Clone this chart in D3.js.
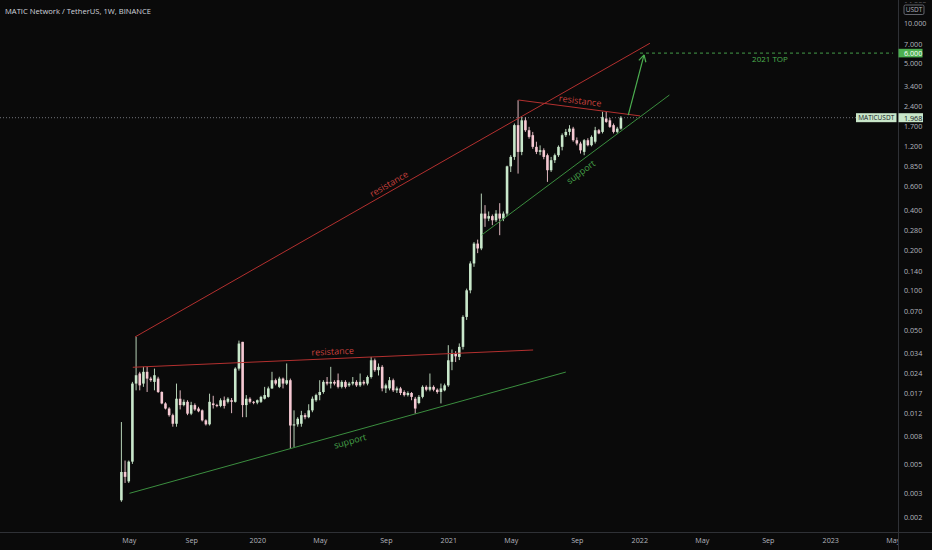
<!DOCTYPE html>
<html><head><meta charset="utf-8">
<script src="https://cdn.jsdelivr.net/npm/d3@7"></script>
<style>
html,body{margin:0;padding:0;background:#0a0a0a;}
svg{display:block;}
text{font-family:"Open Sans","Liberation Sans",sans-serif;}
</style></head><body>
<svg id="chart" width="932" height="550"></svg>
<script>
// ---------- DATA ----------
const title = "MATIC Network / TetherUS, 1W, BINANCE";
const firstWeek = "2019-04-22";
const opens = [0.00267,0.00435,0.0037,0.0052,0.0200,0.0238,0.0200,0.0245,0.0218,0.0206,
0.0218,0.0173,0.0142,0.0130,0.0116,0.0100,0.0154,0.0138,0.0146,0.0119,
0.0138,0.0130,0.0126,0.0106,0.0099,0.0142,0.0138,0.0136,0.0150,0.0146,
0.0150,0.0146,0.0259,0.0411,0.0138,0.0154,0.0146,0.0144,0.0146,0.0154,
0.0159,0.0184,0.0212,0.0189,0.0218,0.0200,0.0212,0.0097,0.0099,0.0100,
0.0116,0.0112,0.0126,0.0150,0.0164,0.0173,0.0206,0.0200,0.0206,0.0212,
0.0189,0.0206,0.0194,0.0200,0.0206,0.0194,0.0206,0.0200,0.0224,0.0299,
0.0252,0.0267,0.0184,0.0184,0.0212,0.0178,0.0184,0.0173,0.0164,0.0170,
0.0154,0.0143,0.0159,0.0189,0.0180,0.0189,0.0180,0.0173,0.0178,0.0194,
0.0291,0.0336,0.0317,0.0377,0.0632,0.100,0.159,0.224,0.206,0.376,
0.345,0.360,0.335,0.376,0.345,0.376,0.850,1.000,1.730,1.090,
1.880,1.585,1.455,1.190,1.091,1.123,1.030,0.795,0.945,1.030,
1.190,1.455,1.540,1.630,1.334,1.260,1.091,1.334,1.224,1.300,
1.585,1.540,1.940,1.880,1.730,1.540,1.630];
const highs = [0.0103,0.0053,0.0053,0.0206,0.0448,0.0245,0.0267,0.0267,0.0225,0.0259,
0.0225,0.0175,0.0145,0.0133,0.0119,0.0200,0.0178,0.0152,0.0150,0.0146,
0.0142,0.0134,0.0128,0.0108,0.0168,0.0162,0.0141,0.0155,0.0160,0.0158,
0.0156,0.0265,0.0420,0.0411,0.0164,0.0158,0.0148,0.0152,0.0162,0.0189,
0.0190,0.0245,0.0218,0.0225,0.0222,0.0283,0.0218,0.0126,0.0112,0.0125,
0.0120,0.0140,0.0160,0.0168,0.0212,0.0212,0.0224,0.0267,0.0212,0.0238,
0.0212,0.0212,0.0206,0.0224,0.0212,0.0238,0.0212,0.0230,0.0317,0.0308,
0.0283,0.0275,0.0200,0.0224,0.0218,0.0190,0.0189,0.0178,0.0175,0.0173,
0.0159,0.0164,0.0194,0.0194,0.0238,0.0194,0.0184,0.0200,0.0200,0.0388,
0.0360,0.0350,0.0400,0.0650,0.103,0.165,0.230,0.240,0.531,0.435,
0.390,0.370,0.399,0.450,0.390,0.860,1.030,1.780,2.660,1.990,
1.990,1.680,1.540,1.300,1.220,1.160,1.060,1.000,1.060,1.220,
1.500,1.620,1.730,1.680,1.400,1.300,1.360,1.380,1.450,1.680,
1.620,2.180,2.180,1.960,1.780,1.680,2.020];
const lows = [0.0026,0.0036,0.0036,0.0050,0.0178,0.0178,0.0189,0.0173,0.0206,0.0178,
0.0170,0.0140,0.0128,0.0113,0.0095,0.0095,0.0128,0.0135,0.0116,0.0116,
0.0125,0.0122,0.0104,0.0097,0.0097,0.0130,0.0133,0.0133,0.0130,0.0142,
0.0120,0.0144,0.0250,0.0112,0.0112,0.0142,0.0140,0.0140,0.0143,0.0152,
0.0157,0.0182,0.0194,0.0185,0.0184,0.0195,0.0065,0.0067,0.0095,0.0095,
0.0108,0.0110,0.0122,0.0146,0.0150,0.0168,0.0194,0.0184,0.0194,0.0184,
0.0184,0.0184,0.0189,0.0194,0.0189,0.0189,0.0194,0.0194,0.0218,0.0245,
0.0230,0.0175,0.0170,0.0178,0.0173,0.0170,0.0164,0.0160,0.0160,0.0150,
0.0119,0.0140,0.0155,0.0175,0.0175,0.0175,0.0168,0.0142,0.0175,0.0189,
0.0252,0.0290,0.0300,0.0360,0.0600,0.0950,0.150,0.190,0.200,0.299,
0.330,0.308,0.325,0.259,0.330,0.360,0.770,0.950,0.750,1.030,
1.540,1.370,1.150,1.050,1.030,0.960,0.650,0.772,0.900,1.000,
1.120,1.410,1.450,1.300,1.220,1.060,1.030,1.200,1.200,1.260,
1.480,1.500,1.800,1.650,1.500,1.500,1.600];
const closes = [0.00435,0.0040,0.0052,0.0200,0.0231,0.0194,0.0245,0.0218,0.0212,0.0231,
0.0173,0.0142,0.0130,0.0116,0.0100,0.0154,0.0138,0.0146,0.0119,0.0138,
0.0128,0.0124,0.0106,0.0099,0.0146,0.0138,0.0136,0.0150,0.0136,0.0154,
0.0146,0.0259,0.0399,0.0138,0.0154,0.0146,0.0144,0.0150,0.0159,0.0164,
0.0184,0.0212,0.0200,0.0218,0.0200,0.0212,0.0097,0.0099,0.0109,0.0116,
0.0112,0.0126,0.0154,0.0164,0.0173,0.0206,0.0200,0.0206,0.0200,0.0189,
0.0206,0.0189,0.0200,0.0206,0.0194,0.0206,0.0200,0.0224,0.0299,0.0252,
0.0267,0.0184,0.0194,0.0212,0.0178,0.0184,0.0170,0.0164,0.0170,0.0159,
0.0130,0.0159,0.0189,0.0180,0.0189,0.0180,0.0173,0.0184,0.0194,0.0299,
0.0336,0.0320,0.0377,0.0632,0.100,0.159,0.224,0.206,0.376,0.345,
0.360,0.335,0.376,0.345,0.376,0.850,1.000,1.730,1.090,1.880,
1.585,1.413,1.190,1.091,1.123,1.000,0.795,0.945,1.030,1.190,
1.455,1.540,1.630,1.334,1.260,1.120,1.334,1.224,1.413,1.585,
1.500,1.995,1.830,1.680,1.540,1.630,1.968];

const priceTicks = [14,10,7,5,3.4,2.4,1.7,1.2,0.85,0.6,0.4,0.28,0.2,0.14,0.1,0.07,0.05,0.034,0.024,0.017,0.012,0.008,0.005,0.003,0.002];
const timeTickDates = ["2019-05-06","2019-09-02","2020-01-06","2020-05-04","2020-09-07","2021-01-04","2021-05-03","2021-09-06","2022-01-03","2022-05-02","2022-09-05","2023-01-02","2023-05-01"];
const timeTickLabels = ["May","Sep","2020","May","Sep","2021","May","Sep","2022","May","Sep","2023","May"];

// drawn trend lines (week index since first candle, price)
const trendKind = ["resistance","resistance","support","resistance","support"];
const trendStartWeek = [3.7, 3.1, 2.2, 108.1, 98.1];
const trendStartPrice = [0.0447, 0.0265, 0.00301, 2.67, 0.26];
const trendEndWeek = [143.9, 112.1, 121.0, 141.2, 149.2];
const trendEndPrice = [7.11, 0.0357, 0.0244, 2.03, 2.91];

const arrowFrom = [138.0, 2.06];
const arrowTo = [142.3, 5.81];
const targetPrice = 6.0;
const targetLabel = "2021 TOP";
const symbol = "MATICUSDT";
const currency = "USDT";

// ---------- CHART ----------
const W = 932, H = 550, axisX = 898, axisY = 532;
const svg = d3.select("#chart");
svg.append("rect").attr("width",W).attr("height",H).attr("fill","#0a0a0a");

const DAY = 864e5;
const t0 = Date.parse(firstWeek + "T00:00:00Z");
const weekDate = i => new Date(t0 + i * 7 * DAY);
const x = d3.scaleUtc().domain([new Date(t0), new Date(Date.parse("2023-05-01T00:00:00Z"))]).range([121.4, 892.7]);
const y = d3.scaleLog().domain([0.002, 10]).range([517, 23.5]);

const defs = svg.append("defs");
defs.append("clipPath").attr("id","plot").append("rect").attr("x",0).attr("y",0).attr("width",axisX).attr("height",axisY);
defs.append("clipPath").attr("id","xlabc").append("rect").attr("x",0).attr("y",-10).attr("width",axisX).attr("height",40);
defs.append("clipPath").attr("id","ytop").append("rect").attr("x",0).attr("y",-20).attr("width",40).attr("height",22.5);

const plot = svg.append("g").attr("clip-path","url(#plot)");

// candles
const candles = opens.map((o,i)=>({i, o, h:Math.max(highs[i],o,closes[i]), l:Math.min(lows[i],o,closes[i]), c:closes[i]}));
const UP = "#c9e8cb", DOWN = "#f6c9d3";
const cg = plot.append("g");
cg.selectAll("line.wick").data(candles).join("line")
  .attr("x1",d=>x(weekDate(d.i))).attr("x2",d=>x(weekDate(d.i)))
  .attr("y1",d=>y(d.h)).attr("y2",d=>y(d.l))
  .attr("stroke",d=>d.c>=d.o?UP:DOWN).attr("stroke-width",0.9);
cg.selectAll("rect.body").data(candles).join("rect")
  .attr("x",d=>x(weekDate(d.i))-1.3).attr("width",2.6)
  .attr("y",d=>y(Math.max(d.o,d.c)))
  .attr("height",d=>Math.max(1,y(Math.min(d.o,d.c))-y(Math.max(d.o,d.c))))
  .attr("fill",d=>d.c>=d.o?UP:DOWN);

// last price dotted line
const lastClose = closes[closes.length-1];
plot.append("line").attr("x1",0).attr("x2",856).attr("y1",y(lastClose)).attr("y2",y(lastClose))
  .attr("stroke","#8a8d95").attr("stroke-width",0.8).attr("stroke-dasharray","1,2");

// trend lines + labels
const lineColor = k => k==="resistance" ? "#b3302f" : "#3b8e3f";
const textColor = k => k==="resistance" ? "#c8403d" : "#45a049";
trendKind.forEach((k,j)=>{
  const x1 = x(weekDate(trendStartWeek[j])), y1 = y(trendStartPrice[j]);
  const x2 = x(weekDate(trendEndWeek[j])), y2 = y(trendEndPrice[j]);
  plot.append("line").attr("x1",x1).attr("y1",y1).attr("x2",x2).attr("y2",y2)
    .attr("stroke",lineColor(k)).attr("stroke-width",1);
  const ang = Math.atan2(y2-y1, x2-x1);
  const mx = (x1+x2)/2, my = (y1+y2)/2;
  const off = k==="resistance" ? -7.5 : 8.5;
  const nx = -Math.sin(ang)*off, ny = Math.cos(ang)*off;
  plot.append("text").attr("transform",`translate(${mx+nx},${my+ny}) rotate(${ang*180/Math.PI})`)
    .attr("text-anchor","middle").attr("dominant-baseline","central")
    .attr("font-size",9).attr("fill",textColor(k)).text(k);
});

// arrow
const GREEN = "#4caf50";
const ax1 = x(weekDate(arrowFrom[0])), ay1 = y(arrowFrom[1]);
const ax2 = x(weekDate(arrowTo[0])), ay2 = y(arrowTo[1]);
plot.append("line").attr("x1",ax1).attr("y1",ay1).attr("x2",ax2).attr("y2",ay2).attr("stroke",GREEN).attr("stroke-width",1.2);
const aa = Math.atan2(ay2-ay1, ax2-ax1);
[-1,1].forEach(s=>{
  const a = aa + Math.PI + s*0.5;
  plot.append("line").attr("x1",ax2).attr("y1",ay2)
    .attr("x2",ax2+Math.cos(a)*7.5).attr("y2",ay2+Math.sin(a)*7.5)
    .attr("stroke",GREEN).attr("stroke-width",1.2);
});

// target dashed line
plot.append("line").attr("x1",x(weekDate(141.2))).attr("x2",893).attr("y1",y(targetPrice)).attr("y2",y(targetPrice))
  .attr("stroke",GREEN).attr("stroke-width",0.9).attr("stroke-dasharray","3,3");
plot.append("text").attr("x",770).attr("y",y(targetPrice)+5.5)
  .attr("text-anchor","middle").attr("dominant-baseline","central")
  .attr("font-size",8).attr("fill",GREEN).text(targetLabel);

// title
svg.append("text").attr("x",5).attr("y",11).attr("dominant-baseline","central")
  .attr("font-size",7.6).attr("fill","#d1d4dc").text(title);

// price axis
const yAxis = d3.axisRight(y).tickValues(priceTicks.slice(1)).tickFormat(d3.format(".3f")).tickSize(0).tickPadding(6);
const yg = svg.append("g").attr("transform",`translate(${axisX},0)`).call(yAxis);
yg.select(".domain").remove();
yg.selectAll("text").attr("fill","#b2b5be").attr("font-size",7.2).attr("font-family","'Open Sans',sans-serif");
// topmost tick, cut off by the window edge and the currency box
const yTop = svg.append("g").attr("transform",`translate(${axisX},0)`).attr("clip-path","url(#ytop)");
yTop.call(d3.axisRight(y).tickValues(priceTicks.slice(0,1)).tickFormat(d3.format(".3f")).tickSize(0).tickPadding(6));
yTop.select(".domain").remove();
yTop.selectAll("text").attr("fill","#b2b5be").attr("font-size",7.2).attr("font-family","'Open Sans',sans-serif");

// time axis
const xAxis = d3.axisBottom(x).tickValues(timeTickDates.map(s=>new Date(Date.parse(s+"T00:00:00Z"))))
  .tickFormat((d,i)=>timeTickLabels[i]).tickSize(0).tickPadding(6);
const xg = svg.append("g").attr("transform",`translate(0,${axisY})`).attr("clip-path","url(#xlabc)");
xg.call(xAxis);
xg.select(".domain").remove();
xg.selectAll("text").attr("fill","#b2b5be").attr("font-size",7.2).attr("font-family","'Open Sans',sans-serif");

// axis lines
svg.append("line").attr("x1",0).attr("x2",W).attr("y1",axisY+0.5).attr("y2",axisY+0.5).attr("stroke","#2f3136").attr("stroke-width",1);
svg.append("line").attr("x1",axisX+0.5).attr("x2",axisX+0.5).attr("y1",0).attr("y2",H).attr("stroke","#2f3136").attr("stroke-width",1);

// currency box
svg.append("rect").attr("x",904).attr("y",5).attr("width",20).attr("height",9.5).attr("rx",1.5)
  .attr("fill","#0a0a0a").attr("stroke","#787b86").attr("stroke-width",0.8);
svg.append("text").attr("x",914).attr("y",9.9).attr("text-anchor","middle").attr("dominant-baseline","central")
  .attr("font-size",6.5).attr("fill","#b2b5be").text(currency);

// target price label
const ty = y(targetPrice);
svg.append("rect").attr("x",axisX+0.5).attr("y",ty-4.3).attr("width",24).attr("height",8.6).attr("fill",GREEN);
svg.append("text").attr("x",904).attr("y",ty).attr("dominant-baseline","central")
  .attr("font-size",7.2).attr("fill","#ffffff").text(d3.format(".3f")(targetPrice));

// last price label + symbol label
const ly = y(lastClose);
svg.append("rect").attr("x",axisX+0.5).attr("y",ly-4.5).attr("width",24.5).attr("height",9).attr("fill","#c8e6c9");
svg.append("text").attr("x",904).attr("y",ly).attr("dominant-baseline","central")
  .attr("font-size",7.2).attr("fill","#131722").text(d3.format(".3f")(lastClose));
svg.append("rect").attr("x",856).attr("y",ly-4.5).attr("width",40.5).attr("height",9).attr("fill","#c8e6c9");
svg.append("text").attr("x",876.2).attr("y",ly).attr("text-anchor","middle").attr("dominant-baseline","central")
  .attr("font-size",6.5).attr("fill","#131722").text(symbol);
</script>
</body></html>
